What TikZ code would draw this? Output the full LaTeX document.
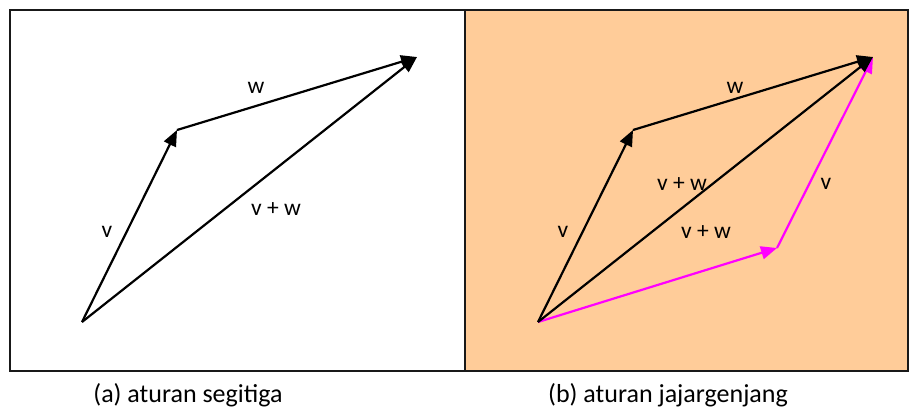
\documentclass[tikz,border=0pt]{standalone}
\usepackage{fontspec}
\setmainfont{Carlito}
\usepackage{xcolor}
\usetikzlibrary{arrows.meta,positioning}
\definecolor{peach}{RGB}{255,204,153}
\definecolor{vecpink}{RGB}{255,0,255}

\begin{document}
\begin{tikzpicture}[
  x=1pt, y=-1pt,
  vec/.style={-{Triangle[length=16pt,width=13pt]}, line width=2.2pt, black},
  pvec/.style={vec, vecpink},
  lbl/.style={font=\fontsize{23.5}{26}\selectfont, inner sep=0pt},
  captext/.style={font=\fontsize{26}{30}\selectfont, inner sep=0pt}
]
  \useasboundingbox (0,0) rectangle (910,410);
  % --- panels ---
  \fill[peach] (465,10) rectangle (908,371);
  \draw[line width=2pt, black!90] (10,10) rectangle (908,371);
  \draw[line width=2pt, black!90] (465,10) -- (465,371);

  % --- (a) triangle rule ---
  \coordinate (o1) at (82,322);
  \coordinate (v1) at (177,130);
  \coordinate (w1) at (417,57);
  \draw[vec] (o1) -- (v1);
  \draw[vec] (v1) -- (w1);
  \draw[vec] (o1) -- (w1);
  \node[lbl] (lw1) at (256,88) {w};
  \node[lbl] (lv1) at (107,232) {v};
  \node[lbl] (ls1) at (276,209) {v + w};
  \node[captext] (ca) at (188,395) {(a) aturan segitiga};

  % --- (b) parallelogram rule ---
  \coordinate (o2) at (538,322);
  \coordinate (v2) at (633,130);
  \coordinate (w2) at (873,57);
  \coordinate (p2) at (777,248);
  \draw[pvec] (o2) -- (p2);
  \draw[pvec] (p2) -- (w2);
  \draw[vec] (o2) -- (v2);
  \draw[vec] (v2) -- (w2);
  \draw[vec] (o2) -- (w2);
  \node[lbl] (lw2) at (735,88) {w};
  \node[lbl] (lv2) at (563,232) {v};
  \node[lbl] (ls2) at (682,184) {v + w};
  \node[lbl] (ls3) at (706,232) {v + w};
  \node[lbl] (lv3) at (826,184) {v};
  \node[captext] (cb) at (668,395) {(b) aturan jajargenjang};
\end{tikzpicture}
\end{document}
